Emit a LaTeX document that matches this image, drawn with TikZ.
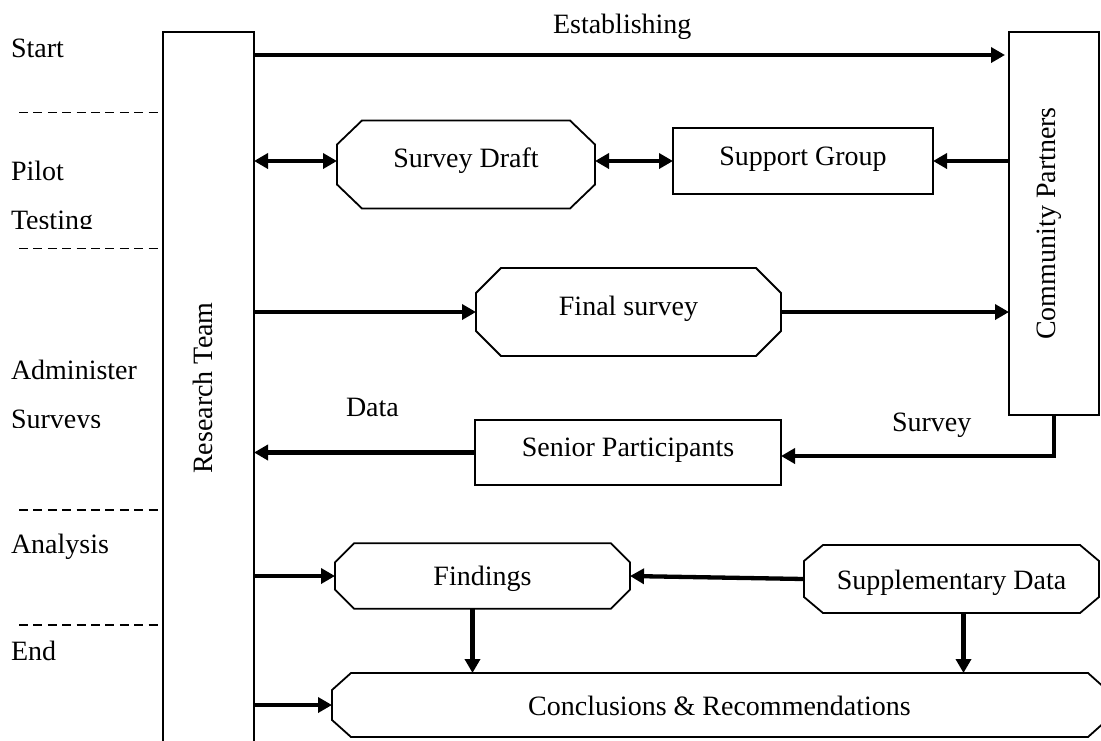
\documentclass[tikz,border=0pt]{standalone}
\usepackage{fontspec}
\setmainfont{Liberation Serif}
\usetikzlibrary{arrows.meta}
\newcommand\octshape[3]{%
  \draw[octline] ([xshift=#2]#1.north west) -- ([xshift=-#2]#1.north east)
    -- ([yshift=-#3]#1.north east) -- ([yshift=#3]#1.south east)
    -- ([xshift=-#2]#1.south east) -- ([xshift=#2]#1.south west)
    -- ([yshift=#3]#1.south west) -- ([yshift=-#3]#1.north west) -- cycle;}
\begin{document}
\begin{tikzpicture}[x=1pt,y=-1pt,
  every node/.style={font=\fontsize{28pt}{34pt}\selectfont, inner sep=0pt, outer sep=0pt},
  lane/.style={draw, line width=1.5pt, rectangle},
  procbox/.style={draw, line width=1.5pt, rectangle, text height=20pt},
  octbox/.style={rectangle, text height=20pt},
  octline/.style={line width=1.8pt, line join=miter},
  arr/.style={line width=4.3pt, -{Triangle[length=14pt,width=15pt]}},
  darr/.style={line width=4.3pt, {Triangle[length=14pt,width=15pt]}-{Triangle[length=14pt,width=15pt]}},
  phase/.style={line width=1.4pt, dash pattern=on 9pt off 5.4pt},
  lbl/.style={anchor=base west},
  vlbl/.style={anchor=base, rotate=90}]
\fill[white] (0,0) rectangle (1101,740);
\useasboundingbox (0,0) rectangle (1101,740);

% swim lanes
\node[lane, minimum width=91pt, minimum height=712pt] (rt) at (208.5,388) {};
\node[vlbl] (rtl) at (212,388) {Research Team};
\node[lane, minimum width=90pt, minimum height=383pt] (cp) at (1054,223.5) {};
\node[vlbl] (cpl) at (1055,223.5) {Community Partners};

% process boxes
\node[octbox, minimum width=258pt, minimum height=88pt, text depth=13.6pt] (sd) at (466,164.5) {Survey Draft};
\octshape{sd}{25pt}{24pt}
\node[procbox, minimum width=260pt, minimum height=66pt, text depth=10.6pt] (sg) at (803,161) {Support Group};
\node[octbox, minimum width=305pt, minimum height=88pt, text depth=14pt] (fs) at (628.5,312) {Final survey};
\octshape{fs}{25pt}{25pt}
\node[procbox, minimum width=306pt, minimum height=65pt, text depth=11.6pt] (sp) at (628,452.5) {Senior Participants};
\node[octbox, minimum width=295pt, minimum height=65.4pt, text depth=2pt] (fd) at (482.5,576) {Findings};
\octshape{fd}{19pt}{19pt}
\node[octbox, minimum width=295pt, minimum height=68pt, text height=21pt, text depth=0.4pt] (sup) at (951.5,579) {Supplementary Data};
\octshape{sup}{19pt}{16pt}
\node[octbox, minimum width=775pt, minimum height=64pt, text depth=0pt] (cc) at (719.5,705) {Conclusions \& Recommendations};
\octshape{cc}{19pt}{17pt}

% connectors
\coordinate (yEst) at (600,55);
\coordinate (yPilot) at (600,161);
\draw[arr, shorten >=4pt] (rt.east |- yEst) -- (cp.west |- yEst);
\draw[darr] (rt.east |- yPilot) -- (sd.west |- yPilot);
\draw[darr] (sd.east |- yPilot) -- (sg.west);
\draw[arr] (cp.west |- sg.east) -- (sg.east);
\draw[arr] (rt.east |- fs.west) -- (fs.west);
\draw[arr] (fs.east) -- (fs.east -| cp.west);
\draw[arr] (sp.west) -- (sp.west -| rt.east);
\draw[arr] (cp.south) |- ([yshift=-3.5pt]sp.east);
\draw[arr] (rt.east |- fd.west) -- (fd.west);
\draw[arr] (sup.west) -- (fd.east);
\draw[arr] ([xshift=-10pt]fd.south) -- ([xshift=-10pt]fd.south |- cc.north);
\draw[arr] ([xshift=12pt]sup.south) -- ([xshift=12pt]sup.south |- cc.north);
\draw[arr] (rt.east |- cc.west) -- (cc.west);

% connector labels
\node[lbl] (lEst) at (553,33.5) {Establishing};
\node[lbl] (lData) at (346,416.7) {Data};
\node[lbl] (lSurvey) at (892,431.7) {Survey};

% phase separators
\foreach \yy/\nn in {112.7/a,248.3/b,510/c,625/d} {
  \coordinate (sep\nn) at (19,\yy);
  \draw[phase] (sep\nn) -- (sep\nn -| rt.west);
}

% phase labels
\node[lbl] (lStart) at (11,57) {Start};
\node[lbl] (lPilot) at (11,180) {Pilot};
\begin{scope}
  \clip (0,200) rectangle (160,228.5);
  \node[lbl] (lTesting) at (11,229.5) {Testing};
\end{scope}
\node[lbl] (lAdmin) at (11,379) {Administer};
\begin{scope}
  \clip (0,395) rectangle (160,427);
  \node[lbl] (lSurveys) at (11,428) {Surveys};
\end{scope}
\node[lbl] (lAnalysis) at (11,553.5) {Analysis};
\node[lbl] (lEnd) at (11,660) {End};
\end{tikzpicture}
\end{document}
